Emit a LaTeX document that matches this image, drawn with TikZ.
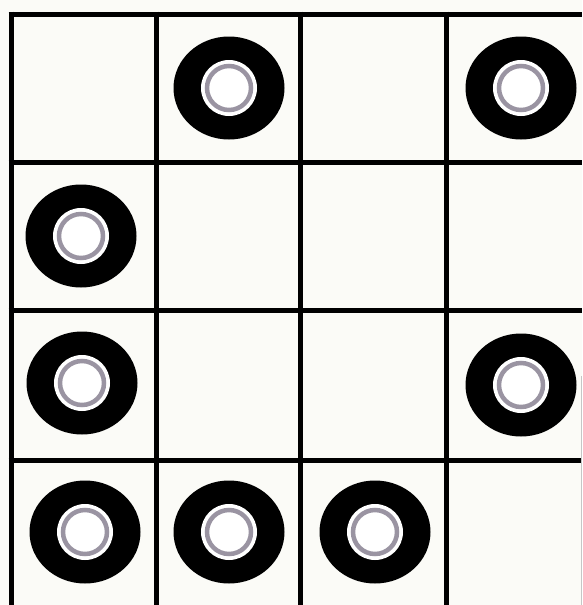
\documentclass[tikz,border=0pt]{standalone}
\usepackage{tikz}

\definecolor{boardbg}{HTML}{FBFBF7}
\definecolor{ringgray}{HTML}{9A94A2}

\begin{document}
\begin{tikzpicture}[x=1pt, y=-1pt,
  gridline/.style={line width=5pt, black},
  ring/.style={ringgray, line width=4.5pt}]
  \useasboundingbox (0,0) rectangle (582,605);
  \fill[boardbg] (0,0) rectangle (582,605);
  % Board lines
  \foreach \gx in {11,156,300.5,446}
    \draw[gridline] (\gx,11.5) -- (\gx,605);
  \foreach \gy in {14,162,310.5,460}
    \draw[gridline] (8.5,\gy) -- (582,\gy);
  % faint edge on the right
  \draw[gray!45, line width=1pt] (581,376) -- (581,605);
  % Pieces
  \foreach \px/\py in {229/88, 521/88, 81/236, 82/383, 521/385,
                       85/532, 229/532, 375/532} {
    \fill[black] (\px,\py) ellipse [x radius=55.5, y radius=51.5];
    \fill[white] (\px,\py) circle [radius=28];
    \draw[ring] (\px,\py) circle [radius=22];
  }
\end{tikzpicture}
\end{document}
